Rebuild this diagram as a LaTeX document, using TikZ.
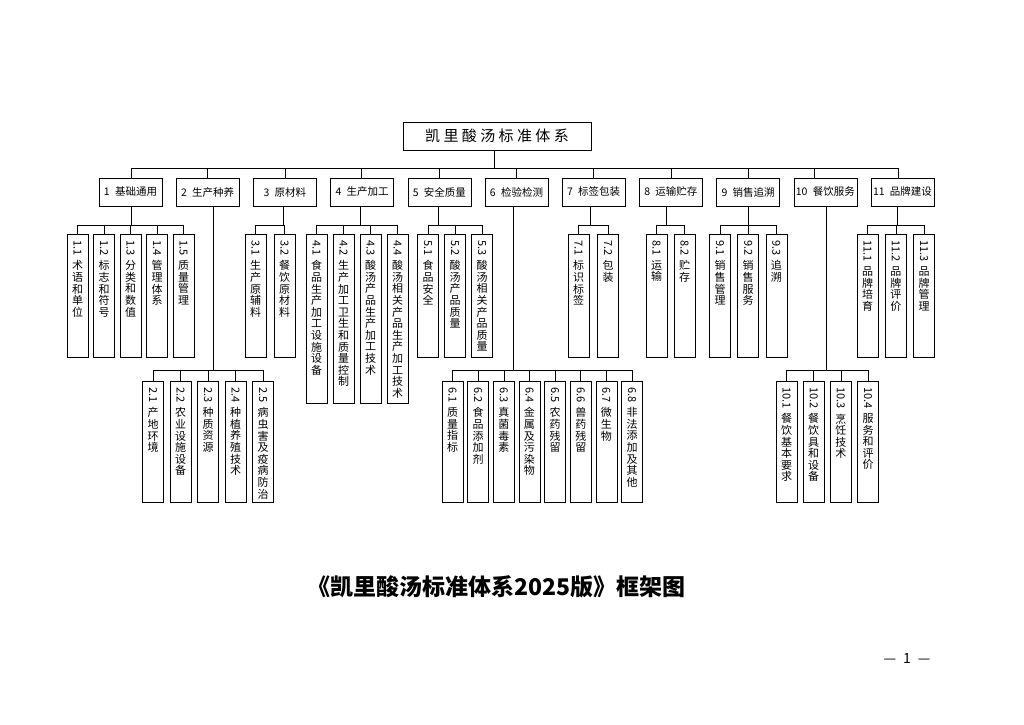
\documentclass[tikz,border=0pt]{standalone}
\usepackage{fontspec}
\setmainfont{Noto Sans CJK SC}
\usepackage{graphicx}
\usepackage{tikz}
\usetikzlibrary{positioning}
\XeTeXlinebreaklocale "zh"
\XeTeXlinebreakskip=0pt plus 1pt
% vertical label: rotated number on top, characters stacked below
\newcommand\vlab[3]{\parbox[t][#1][t]{21pt}{\centering\vspace*{6pt}\rotatebox{-90}{#2}\par\vspace{4pt}#3}}

\begin{document}
\begin{tikzpicture}[
    x=1pt, y=-1pt,
    line width=0.6pt,
    head/.style={
		draw,
		minimum width=188pt,
		minimum height=28pt,
		inner sep=0pt,
		font=\fontsize{15}{18}\selectfont
	},
    group/.style={
		draw,
		minimum width=63pt,
		minimum height=28pt,
		inner sep=0pt,
		font=\fontsize{10.5}{12}\selectfont
	},
    sub/.style={
		draw,
		anchor=north,
		inner sep=0pt,
		font=\fontsize{11}{11.6}\selectfont
	}
  ]
  \useasboundingbox (0,0) rectangle (1024,724);
  % We start by placing the root and the eleven groups
  \node [head] (root) at (497,136) {凯 里 酸 汤 标 准 体 系};
  \foreach \i/\t in {1/基础通用,2/生产种养,3/原材料,4/生产加工,5/安全质量,6/检验检测,
                     7/标签包装,8/运输贮存,9/销售追溯,10/餐饮服务,11/品牌建设}
    \node [group] (c\i) at ({130.5+77.2*(\i-1)},192) {\i\hspace{.5em}\t};

  \coordinate (bus) at (494,168);
  \coordinate (hi) at (0,225);
  \coordinate (lo) at (0,370);

  % the sub-items of every group
  \foreach \k/\t in {1/术语和单位,2/标志和符号,3/分类和数值,4/管理体系,5/质量管理}
    \node [sub] (c1-\k) at ({77.5+26.5*(\k-1)},234) {\vlab{123pt}{1.\k}{\t}};
  \foreach \k/\t in {1/产地环境,2/农业设施设备,3/种质资源,4/种植养殖技术,5/病虫害及疫病防治}
    \node [sub] (c2-\k) at ({153+27.5*(\k-1)},381) {\vlab{121pt}{2.\k}{\t}};
  \foreach \k/\t in {1/生产原辅料,2/餐饮原材料}
    \node [sub] (c3-\k) at ({255.5+29*(\k-1)},234) {\vlab{123pt}{3.\k}{\t}};
  \foreach \k/\t in {1/食品生产加工设施设备,2/生产加工卫生和质量控制,3/酸汤产品生产加工技术,4/酸汤相关产品生产加工技术}
    \node [sub] (c4-\k) at ({316.5+27*(\k-1)},234) {\vlab{169pt}{4.\k}{\t}};
  \foreach \k/\t in {1/食品安全,2/酸汤产品质量,3/酸汤相关产品质量}
    \node [sub] (c5-\k) at ({428+27*(\k-1)},234) {\vlab{123pt}{5.\k}{\t}};
  \foreach \k/\t in {1/质量指标,2/食品添加剂,3/真菌毒素,4/金属及污染物,5/农药残留,6/兽药残留,7/微生物,8/非法添加及其他}
    \node [sub] (c6-\k) at ({452.5+25.65*(\k-1)},381) {\vlab{121pt}{6.\k}{\t}};
  \foreach \k/\t in {1/标识标签,2/包装}
    \node [sub] (c7-\k) at ({578.5+29.5*(\k-1)},234) {\vlab{123pt}{7.\k}{\t}};
  \foreach \k/\t in {1/运输,2/贮存}
    \node [sub] (c8-\k) at ({656.5+28*(\k-1)},234) {\vlab{123pt}{8.\k}{\t}};
  \foreach \k/\t in {1/销售管理,2/销售服务,3/追溯}
    \node [sub] (c9-\k) at ({720+28.2*(\k-1)},234) {\vlab{123pt}{9.\k}{\t}};
  \foreach \k/\t in {1/餐饮基本要求,2/餐饮具和设备,3/烹饪技术,4/服务和评价}
    \node [sub] (c10-\k) at ({786.5+27.2*(\k-1)},381) {\vlab{121pt}{10.\k}{\t}};
  \foreach \k/\t in {1/品牌培育,2/品牌评价,3/品牌管理}
    \node [sub] (c11-\k) at ({867.5+28.3*(\k-1)},234) {\vlab{123pt}{11.\k}{\t}};

  % root to groups
  \draw ([xshift=-3pt]root.south) -- (bus);
  \foreach \i/\d in {1/0.5,2/0,3/0,4/-1,5/0,6/0,7/0,8/0,9/0,10/-11,11/-4.5} {
    \coordinate (n\i) at ([xshift=\d pt]c\i.north);
    \draw (n\i) -- (n\i |- bus);
  }
  \draw (n1 |- bus) -- (n11 |- bus);

  % groups to sub-items
  \foreach \i/\d/\y in {1/0.5/hi,2/5.5/lo,3/-1.5/hi,4/-2/hi,5/-1.5/hi,6/-3.5/lo,
                        7/-3.5/hi,8/-4.5/hi,9/0/hi,10/0.5/lo,11/-5.5/hi} {
    \coordinate (s\i) at ([xshift=\d pt]c\i.south);
    \draw (s\i) -- (s\i |- \y);
  }
  \foreach \i/\n/\y in {1/5/hi,2/5/lo,3/2/hi,4/4/hi,5/3/hi,6/8/lo,7/2/hi,8/2/hi,9/3/hi,10/4/lo,11/3/hi} {
    \draw (c\i-1.north |- \y) -- (c\i-\n.north |- \y);
    \foreach \k in {1,...,\n}
      \draw (c\i-\k.north) -- (c\i-\k.north |- \y);
  }

  % caption and page number
  \node (title) at (496.5,587) {\fontsize{23}{26}\selectfont\bfseries 《凯里酸汤标准体系2025版》框架图};
  \node (page) at (907,658) {\fontsize{14}{16}\selectfont —\hspace{0.5em}1\hspace{0.5em}—};
\end{tikzpicture}
\end{document}
